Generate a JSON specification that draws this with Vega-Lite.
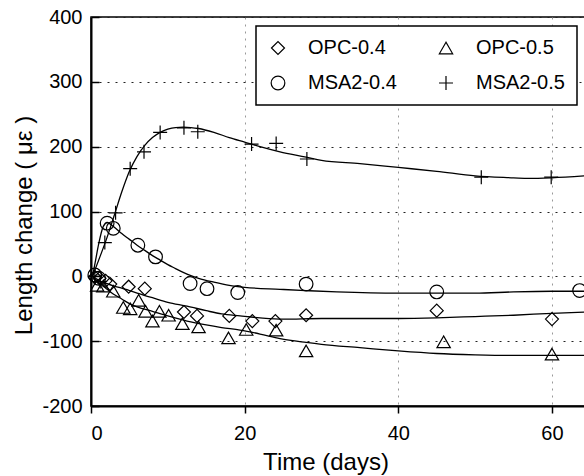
{
  "$schema": "https://vega.github.io/schema/vega-lite/v6.json",
  "width": 494,
  "height": 389,
  "autosize": {"type": "none"},
  "padding": {"left": 91, "top": 17, "right": 0, "bottom": 70},
  "background": "white",
  "datasets": {
    "fit": [
      {"series": "MSA2-0.5", "t": 0.2, "v": 0}, {"series": "MSA2-0.5", "t": 1, "v": 25}, {"series": "MSA2-0.5", "t": 2, "v": 57}, {"series": "MSA2-0.5", "t": 3, "v": 93}, {"series": "MSA2-0.5", "t": 4, "v": 130}, {"series": "MSA2-0.5", "t": 5, "v": 162}, {"series": "MSA2-0.5", "t": 6, "v": 185}, {"series": "MSA2-0.5", "t": 7, "v": 202}, {"series": "MSA2-0.5", "t": 8, "v": 214}, {"series": "MSA2-0.5", "t": 9, "v": 222}, {"series": "MSA2-0.5", "t": 10, "v": 227}, {"series": "MSA2-0.5", "t": 11, "v": 229.5}, {"series": "MSA2-0.5", "t": 12, "v": 230}, {"series": "MSA2-0.5", "t": 13, "v": 229.5}, {"series": "MSA2-0.5", "t": 14, "v": 228}, {"series": "MSA2-0.5", "t": 16, "v": 222}, {"series": "MSA2-0.5", "t": 18, "v": 214}, {"series": "MSA2-0.5", "t": 20, "v": 207}, {"series": "MSA2-0.5", "t": 22, "v": 200}, {"series": "MSA2-0.5", "t": 24.6, "v": 192}, {"series": "MSA2-0.5", "t": 28, "v": 184}, {"series": "MSA2-0.5", "t": 30, "v": 179}, {"series": "MSA2-0.5", "t": 35, "v": 174}, {"series": "MSA2-0.5", "t": 40, "v": 168}, {"series": "MSA2-0.5", "t": 45, "v": 162}, {"series": "MSA2-0.5", "t": 50, "v": 155}, {"series": "MSA2-0.5", "t": 55, "v": 152}, {"series": "MSA2-0.5", "t": 57, "v": 151}, {"series": "MSA2-0.5", "t": 60, "v": 152}, {"series": "MSA2-0.5", "t": 64.3, "v": 155},
      {"series": "MSA2-0.4", "t": 0.2, "v": 0}, {"series": "MSA2-0.4", "t": 0.6, "v": 25}, {"series": "MSA2-0.4", "t": 1, "v": 50}, {"series": "MSA2-0.4", "t": 1.6, "v": 77}, {"series": "MSA2-0.4", "t": 2.1, "v": 83}, {"series": "MSA2-0.4", "t": 3, "v": 76}, {"series": "MSA2-0.4", "t": 4, "v": 66}, {"series": "MSA2-0.4", "t": 5, "v": 57}, {"series": "MSA2-0.4", "t": 6, "v": 48}, {"series": "MSA2-0.4", "t": 7, "v": 40}, {"series": "MSA2-0.4", "t": 8, "v": 32}, {"series": "MSA2-0.4", "t": 9, "v": 25}, {"series": "MSA2-0.4", "t": 10, "v": 18}, {"series": "MSA2-0.4", "t": 11, "v": 12}, {"series": "MSA2-0.4", "t": 12, "v": 6}, {"series": "MSA2-0.4", "t": 13, "v": 1}, {"series": "MSA2-0.4", "t": 14, "v": -3}, {"series": "MSA2-0.4", "t": 16, "v": -9}, {"series": "MSA2-0.4", "t": 18, "v": -14}, {"series": "MSA2-0.4", "t": 20, "v": -17}, {"series": "MSA2-0.4", "t": 24.6, "v": -20}, {"series": "MSA2-0.4", "t": 28, "v": -22}, {"series": "MSA2-0.4", "t": 32, "v": -24}, {"series": "MSA2-0.4", "t": 40, "v": -26}, {"series": "MSA2-0.4", "t": 45, "v": -26}, {"series": "MSA2-0.4", "t": 50, "v": -26}, {"series": "MSA2-0.4", "t": 55, "v": -24}, {"series": "MSA2-0.4", "t": 60, "v": -23}, {"series": "MSA2-0.4", "t": 64.3, "v": -23},
      {"series": "OPC-0.4", "t": 0.2, "v": 0}, {"series": "OPC-0.4", "t": 1, "v": -6}, {"series": "OPC-0.4", "t": 2, "v": -11}, {"series": "OPC-0.4", "t": 3, "v": -15}, {"series": "OPC-0.4", "t": 4, "v": -18}, {"series": "OPC-0.4", "t": 5, "v": -22}, {"series": "OPC-0.4", "t": 6, "v": -26}, {"series": "OPC-0.4", "t": 8, "v": -33}, {"series": "OPC-0.4", "t": 10, "v": -40}, {"series": "OPC-0.4", "t": 12.5, "v": -46}, {"series": "OPC-0.4", "t": 15, "v": -53}, {"series": "OPC-0.4", "t": 17, "v": -58}, {"series": "OPC-0.4", "t": 19.4, "v": -61}, {"series": "OPC-0.4", "t": 22, "v": -64}, {"series": "OPC-0.4", "t": 25, "v": -66}, {"series": "OPC-0.4", "t": 30, "v": -65}, {"series": "OPC-0.4", "t": 40, "v": -65}, {"series": "OPC-0.4", "t": 45, "v": -64}, {"series": "OPC-0.4", "t": 50, "v": -62}, {"series": "OPC-0.4", "t": 55, "v": -60}, {"series": "OPC-0.4", "t": 60, "v": -57}, {"series": "OPC-0.4", "t": 64.3, "v": -55},
      {"series": "OPC-0.5", "t": 0.2, "v": 0}, {"series": "OPC-0.5", "t": 1, "v": -10}, {"series": "OPC-0.5", "t": 2, "v": -19}, {"series": "OPC-0.5", "t": 3, "v": -28}, {"series": "OPC-0.5", "t": 4, "v": -35}, {"series": "OPC-0.5", "t": 5, "v": -42}, {"series": "OPC-0.5", "t": 6, "v": -47}, {"series": "OPC-0.5", "t": 8, "v": -54}, {"series": "OPC-0.5", "t": 10, "v": -61}, {"series": "OPC-0.5", "t": 12.5, "v": -69}, {"series": "OPC-0.5", "t": 15, "v": -75}, {"series": "OPC-0.5", "t": 17, "v": -79}, {"series": "OPC-0.5", "t": 19.4, "v": -83}, {"series": "OPC-0.5", "t": 22, "v": -89}, {"series": "OPC-0.5", "t": 24.6, "v": -96}, {"series": "OPC-0.5", "t": 28, "v": -102}, {"series": "OPC-0.5", "t": 30, "v": -105}, {"series": "OPC-0.5", "t": 35, "v": -110}, {"series": "OPC-0.5", "t": 40, "v": -115}, {"series": "OPC-0.5", "t": 45, "v": -119}, {"series": "OPC-0.5", "t": 50, "v": -121}, {"series": "OPC-0.5", "t": 55, "v": -122}, {"series": "OPC-0.5", "t": 64.3, "v": -122}
    ],
    "pts": [
      {"series": "OPC-0.4", "t": 0.5, "v": -1}, {"series": "OPC-0.4", "t": 1.1, "v": -3}, {"series": "OPC-0.4", "t": 1.9, "v": -7}, {"series": "OPC-0.4", "t": 2.5, "v": -12}, {"series": "OPC-0.4", "t": 4.9, "v": -16}, {"series": "OPC-0.4", "t": 7, "v": -19}, {"series": "OPC-0.4", "t": 12.1, "v": -55}, {"series": "OPC-0.4", "t": 13.8, "v": -61}, {"series": "OPC-0.4", "t": 18, "v": -61}, {"series": "OPC-0.4", "t": 21, "v": -69}, {"series": "OPC-0.4", "t": 24, "v": -69}, {"series": "OPC-0.4", "t": 28, "v": -60}, {"series": "OPC-0.4", "t": 45, "v": -53}, {"series": "OPC-0.4", "t": 60, "v": -66},
      {"series": "OPC-0.5", "t": 0.8, "v": -14}, {"series": "OPC-0.5", "t": 1.6, "v": -15}, {"series": "OPC-0.5", "t": 2.9, "v": -23}, {"series": "OPC-0.5", "t": 4.2, "v": -48}, {"series": "OPC-0.5", "t": 5.1, "v": -50}, {"series": "OPC-0.5", "t": 6.2, "v": -37}, {"series": "OPC-0.5", "t": 7.1, "v": -54}, {"series": "OPC-0.5", "t": 8, "v": -69}, {"series": "OPC-0.5", "t": 8.9, "v": -54}, {"series": "OPC-0.5", "t": 10.1, "v": -60}, {"series": "OPC-0.5", "t": 11.9, "v": -73}, {"series": "OPC-0.5", "t": 14, "v": -78}, {"series": "OPC-0.5", "t": 17.9, "v": -95}, {"series": "OPC-0.5", "t": 20.2, "v": -82}, {"series": "OPC-0.5", "t": 24.1, "v": -83}, {"series": "OPC-0.5", "t": 28, "v": -115}, {"series": "OPC-0.5", "t": 45.9, "v": -101}, {"series": "OPC-0.5", "t": 60, "v": -120},
      {"series": "MSA2-0.4", "t": 0.5, "v": 2}, {"series": "MSA2-0.4", "t": 1, "v": -3}, {"series": "MSA2-0.4", "t": 2.1, "v": 82}, {"series": "MSA2-0.4", "t": 2.9, "v": 74}, {"series": "MSA2-0.4", "t": 6.1, "v": 48}, {"series": "MSA2-0.4", "t": 8.4, "v": 30}, {"series": "MSA2-0.4", "t": 12.9, "v": -11}, {"series": "MSA2-0.4", "t": 15.1, "v": -19}, {"series": "MSA2-0.4", "t": 19.1, "v": -25}, {"series": "MSA2-0.4", "t": 28, "v": -12}, {"series": "MSA2-0.4", "t": 45, "v": -24}, {"series": "MSA2-0.4", "t": 63.6, "v": -22},
      {"series": "MSA2-0.5", "t": 0.5, "v": 0}, {"series": "MSA2-0.5", "t": 1.2, "v": -8}, {"series": "MSA2-0.5", "t": 1.8, "v": 52}, {"series": "MSA2-0.5", "t": 3.2, "v": 98}, {"series": "MSA2-0.5", "t": 5.1, "v": 166}, {"series": "MSA2-0.5", "t": 6.9, "v": 192}, {"series": "MSA2-0.5", "t": 9, "v": 222}, {"series": "MSA2-0.5", "t": 12.1, "v": 229}, {"series": "MSA2-0.5", "t": 13.9, "v": 223}, {"series": "MSA2-0.5", "t": 20.9, "v": 204}, {"series": "MSA2-0.5", "t": 24.1, "v": 205}, {"series": "MSA2-0.5", "t": 28.1, "v": 181}, {"series": "MSA2-0.5", "t": 50.8, "v": 153}, {"series": "MSA2-0.5", "t": 59.9, "v": 153}
    ]
  },
  "encoding": {
    "x": {
      "field": "t", "type": "quantitative",
      "scale": {"domain": [0, 64.3], "nice": false, "zero": false},
      "axis": {
        "title": "Time (days)", "values": [0, 20, 40, 60],
        "gridColor": "#999999", "gridDash": [2, 5], "gridWidth": 1,
        "tickSize": 7, "labelPadding": 10,
        "titleX": 234.5, "titleY": 63, "titleBaseline": "alphabetic", "titleAlign": "center"
      }
    },
    "y": {
      "field": "v", "type": "quantitative",
      "scale": {"domain": [-200, 400], "nice": false},
      "axis": {
        "title": "Length change ( με )", "values": [-200, -100, 0, 100, 200, 300, 400],
        "labelExpr": "toString(datum.value)",
        "gridColor": "#222222", "gridDash": [2, 6], "gridWidth": 1,
        "tickSize": -8, "labelPadding": 17,
        "titleX": -60, "titleY": 208, "titleAngle": 270, "titleBaseline": "alphabetic", "titleAlign": "center"
      }
    }
  },
  "layer": [
    {
      "data": {"name": "fit"},
      "mark": {"type": "line", "color": "black", "strokeWidth": 1.3, "interpolate": "monotone"},
      "encoding": {"detail": {"field": "series"}}
    },
    {
      "data": {"name": "pts"},
      "mark": {"type": "point", "filled": false, "color": "black", "strokeWidth": 1.2, "opacity": 1},
      "encoding": {
        "shape": {
          "field": "series", "type": "nominal",
          "scale": {"domain": ["OPC-0.4", "OPC-0.5", "MSA2-0.4", "MSA2-0.5"], "range": ["diamond", "triangle-up", "circle", "M-1,0H1M0,-1V1"]},
          "legend": {"title": null, "direction": "horizontal", "columns": 2}
        },
        "size": {
          "field": "series", "type": "nominal",
          "scale": {"domain": ["OPC-0.4", "OPC-0.5", "MSA2-0.4", "MSA2-0.5"], "range": [169, 196, 169, 256]},
          "legend": {"title": null, "direction": "horizontal", "columns": 2}
        }
      }
    }
  ],
  "config": {
    "font": "Liberation Sans",
    "view": {"stroke": "black", "strokeWidth": 1.5},
    "axis": {
      "domainColor": "black", "domainWidth": 2, "tickColor": "black", "tickWidth": 1.5,
      "labelColor": "black", "labelFontSize": 20, "labelFont": "Liberation Sans",
      "titleColor": "black", "titleFontSize": 24, "titleFontWeight": "normal", "titleFont": "Liberation Sans",
      "grid": true
    },
    "legend": {
      "orient": "none", "legendX": 165, "legendY": 9, "direction": "horizontal",
      "columns": 2, "padding": 12, "rowPadding": 15, "columnPadding": 39,
      "labelOffset": 20, "labelFontSize": 20, "labelColor": "black", "labelFont": "Liberation Sans",
      "strokeColor": "black", "strokeWidth": 1.5, "fillColor": "white",
      "symbolStrokeColor": "black", "symbolStrokeWidth": 1.2, "symbolFillColor": "transparent"
    }
  }
}
